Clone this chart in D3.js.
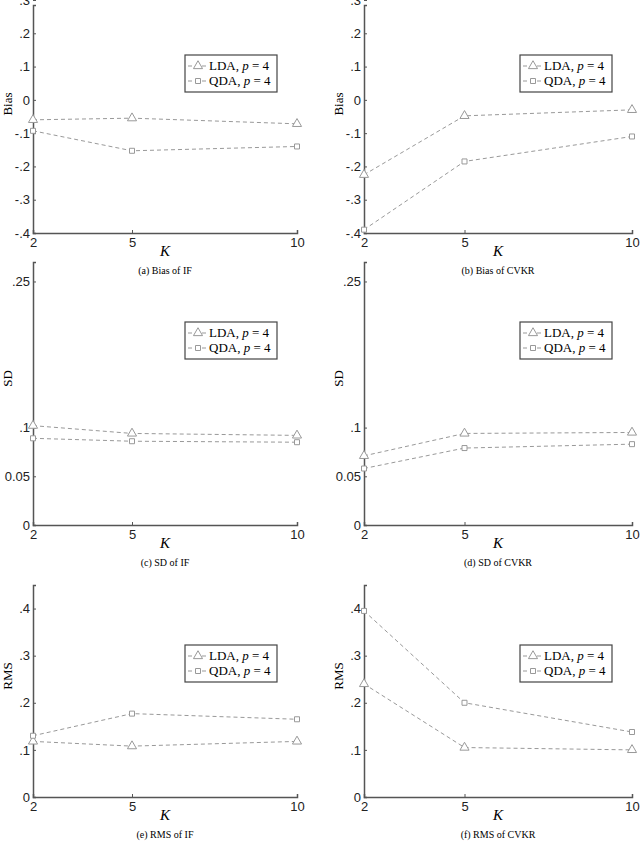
<!DOCTYPE html><html><head><meta charset="utf-8"><script src="https://cdn.jsdelivr.net/npm/d3@7"></script>
<style>body{margin:0;background:#fff}</style></head><body><svg id="c" width="640" height="868"></svg>
<script>
const kValues=[2,5,10];
const biasIF_LDA=[-0.06,-0.055,-0.072], biasIF_QDA=[-0.093,-0.153,-0.14];
const biasCV_LDA=[-0.225,-0.048,-0.03], biasCV_QDA=[-0.39,-0.185,-0.11];
const sdIF_LDA=[0.102,0.094,0.092], sdIF_QDA=[0.089,0.086,0.085];
const sdCV_LDA=[0.071,0.094,0.095], sdCV_QDA=[0.058,0.079,0.083];
const rmsIF_LDA=[0.118,0.108,0.118], rmsIF_QDA=[0.13,0.177,0.165];
const rmsCV_LDA=[0.24,0.105,0.1], rmsCV_QDA=[0.395,0.2,0.138];
const biasTicks=[[0.3,".3"],[0.2,".2"],[0.1,".1"],[0,"0"],[-0.1,"-.1"],[-0.2,"-.2"],[-0.3,"-.3"],[-0.4,"-.4"]];
const sdTicks=[[0.25,".25"],[0.1,".1"],[0.05,"0.05"],[0,"0"]];
const rmsTicks=[[0.4,".4"],[0.3,".3"],[0.2,".2"],[0.1,".1"],[0,"0"]];
const panels=[
 {x0:33,x1:297,y0:5,y1:233,dom:[-0.4,0.285],ticks:biasTicks,lab:"Bias",cap:"(a) Bias of IF",l:biasIF_LDA,q:biasIF_QDA,ly:55},
 {x0:364,x1:632,y0:5,y1:233,dom:[-0.4,0.285],ticks:biasTicks,lab:"Bias",cap:"(b) Bias of CVKR",l:biasCV_LDA,q:biasCV_QDA,ly:55},
 {x0:33,x1:297,y0:262,y1:525,dom:[0,0.27],ticks:sdTicks,lab:"SD",cap:"(c) SD of IF",l:sdIF_LDA,q:sdIF_QDA,ly:322},
 {x0:364,x1:632,y0:262,y1:525,dom:[0,0.27],ticks:sdTicks,lab:"SD",cap:"(d) SD of CVKR",l:sdCV_LDA,q:sdCV_QDA,ly:322},
 {x0:33,x1:297,y0:585,y1:797,dom:[0,0.45],ticks:rmsTicks,lab:"RMS",cap:"(e) RMS of IF",l:rmsIF_LDA,q:rmsIF_QDA,ly:645},
 {x0:364,x1:632,y0:585,y1:797,dom:[0,0.45],ticks:rmsTicks,lab:"RMS",cap:"(f) RMS of CVKR",l:rmsCV_LDA,q:rmsCV_QDA,ly:645}];
const svg=d3.select("#c");
const gray="#999";
const tri=d3.symbol().type(d3.symbolTriangle).size(36), sq=d3.symbol().type(d3.symbolSquare).size(25);
panels.forEach(p=>{
 const g=svg.append("g");
 const x=d3.scaleLinear().domain([2,10]).range([p.x0,p.x1]);
 const y=d3.scaleLinear().domain(p.dom).range([p.y1,p.y0]);
 const ytv=p.ticks.map(t=>t[0]);
 const ya=g.append("g").attr("transform",`translate(${p.x0},0)`).call(d3.axisLeft(y).tickValues(ytv).tickSize(-3).tickPadding(3).tickFormat((d,i)=>p.ticks[i][1]));
 const xa=g.append("g").attr("transform",`translate(0,${p.y1})`).call(d3.axisBottom(x).tickValues(kValues).tickSize(-3).tickPadding(4).tickFormat(d3.format("d")));
 [ya,xa].forEach(a=>{a.select(".domain").attr("stroke","#555").attr("stroke-width",1.5);a.selectAll(".tick line").attr("stroke","#555");a.selectAll("text").attr("font-family","Liberation Sans, Arial").attr("font-size",13).attr("fill","#222");});
 xa.selectAll(".tick text").attr("dy","0.8em");
 g.append("text").attr("x",(p.x0+p.x1)/2).attr("y",p.y1+23).attr("text-anchor","middle").attr("font-family","Liberation Serif").attr("font-style","italic").attr("font-size",15).text("K");
 g.append("text").attr("transform",`translate(${p.x0-21},${(p.y0+p.y1)/2-15}) rotate(-90)`).attr("text-anchor","middle").attr("font-family","Liberation Serif").attr("font-size",13).text(p.lab);
 g.append("text").attr("x",(p.x0+p.x1)/2).attr("y",p.y1+41).attr("text-anchor","middle").attr("font-family","Liberation Serif").attr("font-size",10).text(p.cap);
 const line=d3.line().x((d,i)=>x(kValues[i])).y(d=>y(d));
 [[p.l,tri],[p.q,sq]].forEach(([s,sym])=>{
  g.append("path").attr("d",line(s)).attr("fill","none").attr("stroke",gray).attr("stroke-dasharray","4,3");
  s.forEach((v,i)=>g.append("path").attr("d",sym()).attr("transform",`translate(${x(kValues[i])},${y(v)})`).attr("fill","#fff").attr("stroke",gray));
 });
 const lx=p.x1-112, lw=92;
 g.append("rect").attr("x",lx).attr("y",p.ly).attr("width",lw).attr("height",37).attr("fill","#fff").attr("stroke","#444").attr("stroke-width",1.2);
 [["LDA",tri],["QDA",sq]].forEach(([n,sym],i)=>{
  const yy=p.ly+11+i*15;
  g.append("line").attr("x1",lx+3).attr("x2",lx+23).attr("y1",yy).attr("y2",yy).attr("stroke",gray).attr("stroke-dasharray","4,3");
  g.append("path").attr("d",sym()).attr("transform",`translate(${lx+13},${yy})`).attr("fill","#fff").attr("stroke",gray);
  const t=g.append("text").attr("x",lx+24).attr("y",yy+4).attr("font-family","Liberation Serif").attr("font-size",13);
  t.append("tspan").text(n+", ");t.append("tspan").attr("font-style","italic").text("p");t.append("tspan").text(" = 4");
 });
});
</script></body></html>
